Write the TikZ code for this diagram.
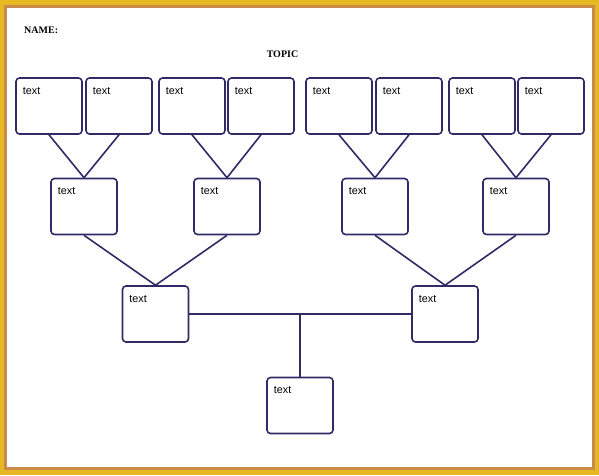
\documentclass[tikz,border=0pt]{standalone}
\usepackage{fontspec}
\setmainfont{Liberation Serif}
\setsansfont{Liberation Sans}
\usepackage{tikz}
\definecolor{ink}{HTML}{2E2B66}
\definecolor{gold}{HTML}{E6B922}
\definecolor{rim}{HTML}{C98B47}
\tikzset{%
box/.style={draw=ink,line width=1.6pt,rounded corners=3.5pt,
  minimum width=66pt,minimum height=56pt,inner sep=0pt,
  label={[anchor=north west,inner sep=0pt,xshift=7.5pt,yshift=-10pt,
    font=\sffamily\fontsize{10.8}{12}\selectfont]north west:text}
},
link/.style={draw=ink,line width=1.6pt},
head/.style={font=\bfseries\fontsize{10}{12}\selectfont,inner sep=0pt},
}

\begin{document}
\begin{tikzpicture}[x=1pt,y=-1pt]
 \useasboundingbox (0,0) rectangle (599,475);
 % frame
 \fill[gold] (0,0) rectangle (599,475);
 \fill[rim] (4,5) rectangle (595,470);
 \fill[white] (7,7.5) rectangle (592,467);
 \node[head,anchor=west] (name) at (24,30.5) {NAME:};
 \node[head] (topic) at (282.5,54.5) {TOPIC};
 % boxes
 \foreach \n/\x in {1/49,2/119,3/192,4/261,5/339,6/409,7/482,8/551}
   \node[box] (a\n) at (\x,106) {};
 \foreach \n/\x in {1/84,2/227,3/375,4/516}
   \node[box] (b\n) at (\x,206.5) {};
 \node[box] (c1) at (155.5,314) {};
 \node[box] (c2) at (445,314) {};
 \node[box] (r) at (300,405.5) {};
 % links
 \foreach \i/\j/\k in {1/2/1,3/4/2,5/6/3,7/8/4}
   \draw[link] (a\i.south) -- (b\k.north) -- (a\j.south);
 \draw[link] (b1.south) -- (c1.north) -- (b2.south);
 \draw[link] (b3.south) -- (c2.north) -- (b4.south);
 \draw[link] (c1.east) -- (c2.west);
 \draw[link] (r.north) -- (r.north |- c1.east);
\end{tikzpicture}
\end{document}
